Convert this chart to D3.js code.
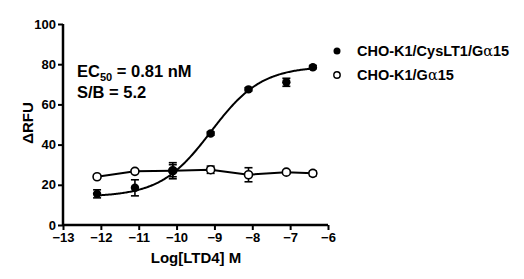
<!DOCTYPE html>
<html>
<head>
<meta charset="utf-8">
<script src="https://cdn.jsdelivr.net/npm/d3@7"></script>
<style>
  body { margin: 0; background: #fff; }
  text { font-family: Arial, "Liberation Sans", sans-serif; font-weight: bold; }
</style>
</head>
<body>
<div id="chart"></div>
<script>
// Donnees
var logConc = [-12.1, -11.1, -10.1, -9.1, -8.1, -7.1, -6.4];
var cysLT1 = [15.5, 18.5, 27, 45.5, 67.5, 71, 78.5];
var cysLT1Err = [2, 4, 3, 0.8, 0.8, 2, 0.8];
var controle = [24, 26.7, 27, 27.5, 25, 26.3, 25.7];
var controleErr = [0.8, 0.8, 4, 1.8, 3.5, 0.8, 1.2];
var xTicks = [-13, -12, -11, -10, -9, -8, -7, -6];
var yTicks = [0, 20, 40, 60, 80, 100];

// Parametres de l'ajustement sigmoide
var fit = { bas: 14, haut: 79, logEC50: -9.09, pente: 0.65 };

var largeur = 524, hauteur = 279;
var marge = { gauche: 63, haut: 24, droite: 196, bas: 54 };

var svg = d3.select("#chart").append("svg")
  .attr("width", largeur).attr("height", hauteur);

var x = d3.scaleLinear().domain([-13, -6]).range([marge.gauche, largeur - marge.droite]);
var y = d3.scaleLinear().domain([0, 100]).range([hauteur - marge.bas, marge.haut]);

// Axes
var axeX = svg.append("g")
  .attr("transform", "translate(0," + y(0) + ")")
  .call(d3.axisBottom(x).tickValues(xTicks).tickSize(5).tickPadding(3).tickFormat(d3.format("d")));
var axeY = svg.append("g")
  .attr("transform", "translate(" + x(-13) + ",0)")
  .call(d3.axisLeft(y).tickValues(yTicks).tickSize(5).tickPadding(2));

[axeX, axeY].forEach(function (a) {
  a.select(".domain").attr("stroke-width", 2.5).attr("d", a === axeX
    ? "M" + x(-13) + ",0H" + x(-6)
    : "M0," + y(0) + "V" + y(100));
  a.selectAll(".tick line").attr("stroke-width", 2);
  a.selectAll(".tick text").attr("font-size", 13).attr("fill", "#000")
    .style("font-family", "Arial, 'Liberation Sans', sans-serif").style("font-weight", "bold");
});

// Titres des axes
svg.append("text").attr("x", 196).attr("y", 263).attr("text-anchor", "middle")
  .attr("font-size", 15).text("Log[LTD4] M");
svg.append("text").attr("transform", "translate(33,123) rotate(-90)").attr("text-anchor", "middle")
  .attr("font-size", 15).text("\u0394RFU");

// Courbe ajustee
var ptsCourbe = d3.range(0, 201).map(function (i) {
  var lx = logConc[0] + (logConc[logConc.length - 1] - logConc[0]) * i / 200;
  var v = fit.bas + (fit.haut - fit.bas) / (1 + Math.pow(10, (fit.logEC50 - lx) * fit.pente));
  return [lx, v];
});
var ligne = d3.line().x(function (d) { return x(d[0]); }).y(function (d) { return y(d[1]); });
svg.append("path").datum(ptsCourbe).attr("d", ligne)
  .attr("fill", "none").attr("stroke", "#000").attr("stroke-width", 2);

// Ligne du controle (point a point)
svg.append("path").datum(logConc.map(function (c, i) { return [c, controle[i]]; })).attr("d", ligne)
  .attr("fill", "none").attr("stroke", "#000").attr("stroke-width", 2);

// Barres d'erreur
function barres(valeurs, erreurs) {
  var g = svg.append("g").attr("stroke", "#000").attr("stroke-width", 1.6);
  logConc.forEach(function (c, i) {
    var cx = x(c), h = y(valeurs[i] + erreurs[i]), b = y(valeurs[i] - erreurs[i]);
    g.append("line").attr("x1", cx).attr("x2", cx).attr("y1", h).attr("y2", b);
    g.append("line").attr("x1", cx - 4).attr("x2", cx + 4).attr("y1", h).attr("y2", h);
    g.append("line").attr("x1", cx - 4).attr("x2", cx + 4).attr("y1", b).attr("y2", b);
  });
}
barres(cysLT1, cysLT1Err);
barres(controle, controleErr);

// Points
svg.append("g").selectAll("circle").data(controle).enter().append("circle")
  .attr("cx", function (d, i) { return x(logConc[i]); })
  .attr("cy", function (d) { return y(d); })
  .attr("r", 4).attr("fill", "#fff").attr("stroke", "#000").attr("stroke-width", 1.6);
svg.append("g").selectAll("circle").data(cysLT1).enter().append("circle")
  .attr("cx", function (d, i) { return x(logConc[i]); })
  .attr("cy", function (d) { return y(d); })
  .attr("r", 4.2).attr("fill", "#000");

// Annotations
var ec = svg.append("text").attr("x", 77).attr("y", 77).attr("font-size", 16.5);
ec.append("tspan").text("EC");
ec.append("tspan").attr("font-size", 11).attr("dy", 4).text("50");
ec.append("tspan").attr("dy", -4).text(" = 0.81 nM");
svg.append("text").attr("x", 77).attr("y", 98).attr("font-size", 16.5).text("S/B = 5.2");

// Legende
var legende = [
  { nom: "CHO-K1/CysLT1/G", plein: true },
  { nom: "CHO-K1/G", plein: false }
];
legende.forEach(function (l, i) {
  var yy = 51 + i * 24;
  svg.append("circle").attr("cx", 337).attr("cy", yy).attr("r", l.plein ? 3.5 : 3.2)
    .attr("fill", l.plein ? "#000" : "#fff").attr("stroke", "#000").attr("stroke-width", l.plein ? 0 : 1.4);
  var t = svg.append("text").attr("x", 357).attr("y", yy + 5).attr("font-size", 14.5);
  t.append("tspan").text(l.nom);
  t.append("tspan").style("font-weight", "normal").style("font-family", "'DejaVu Serif', serif").text("\u03b1");
  t.append("tspan").text("15");
});
</script>
</body>
</html>
